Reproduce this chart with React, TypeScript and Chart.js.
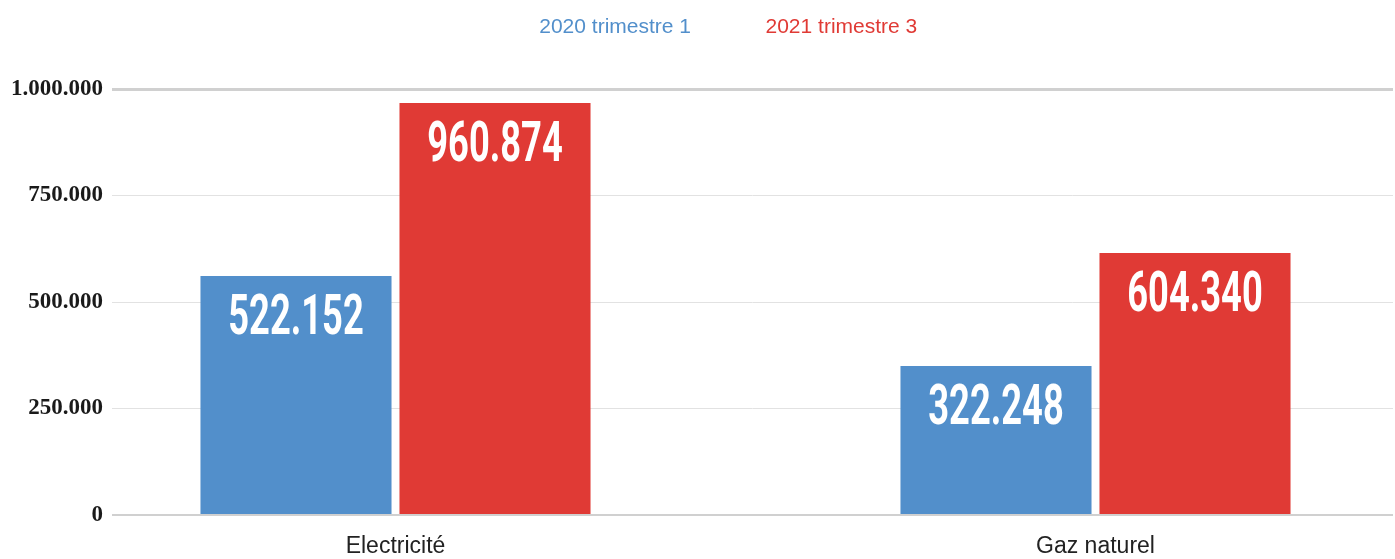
import React, { useEffect, useRef } from "react";
import { Chart, registerables } from "chart.js";

Chart.register(...registerables);

// Data
const categories = ["Electricité", "Gaz naturel"];
const seriesNames = ["2020 trimestre 1", "2021 trimestre 3"];
// bar heights as drawn in the picture
const bars2020 = [561000, 350000];
const bars2021 = [967000, 615000];
// value labels printed on the bars
const labels2020 = ["522.152", "322.248"];
const labels2021 = ["960.874", "604.340"];
const yTicks = [0, 250000, 500000, 750000, 1000000];

const BLUE = "#528fcb";
const RED = "#e03a35";

const fmt = (v: number) => String(Math.round(v)).replace(/\B(?=(\d{3})+(?!\d))/g, ".");

const barLabelPlugin = {
  id: "barLabels",
  afterDatasetsDraw(chart: any) {
    const ctx = chart.ctx;
    const texts = [labels2020, labels2021];
    chart.data.datasets.forEach((ds: any, di: number) => {
      const meta = chart.getDatasetMeta(di);
      meta.data.forEach((el: any, i: number) => {
        ctx.save();
        ctx.translate(el.x, el.y + 58);
        ctx.scale(0.66, 1);
        ctx.font = "bold 55px Roboto";
        ctx.fillStyle = "#ffffff";
        ctx.textAlign = "center";
        ctx.textBaseline = "alphabetic";
        ctx.fillText(texts[di][i], 0, 0);
        ctx.restore();
      });
    });
  },
};

const legendSpacer = {
  id: "legendSpacer",
  beforeInit(chart: any) {
    const legend = chart.legend;
    if (!legend) return;
    const origFit = legend.fit;
    legend.fit = function () {
      origFit.call(this);
      this.height += 41;
    };
  },
};

export default function App() {
  const ref = useRef<HTMLCanvasElement | null>(null);

  useEffect(() => {
    if (!ref.current) return;
    const chart = new Chart(ref.current, {
      type: "bar",
      data: {
        datasets: [
          {
            label: seriesNames[0],
            data: bars2020.map((v, i) => ({ x: i, y: v })),
            backgroundColor: BLUE,
            borderWidth: 0,
            categoryPercentage: 0.5686,
            barPercentage: 0.96,
          },
          {
            label: seriesNames[1],
            data: bars2021.map((v, i) => ({ x: i, y: v })),
            backgroundColor: RED,
            borderWidth: 0,
            categoryPercentage: 0.5686,
            barPercentage: 0.96,
          },
        ],
      },
      options: {
        responsive: false,
        animation: false,
        layout: { padding: { top: 6, right: 2, bottom: 0, left: 0 } },
        plugins: {
          tooltip: { enabled: false },
          legend: {
            display: true,
            position: "top",
            labels: {
              boxWidth: 53,
              boxHeight: 0,
              padding: 11,
              font: { family: "'Liberation Sans', Arial, sans-serif", size: 21 },
              generateLabels: (chart: any) =>
                chart.data.datasets.map((ds: any, i: number) => ({
                  text: ds.label,
                  fillStyle: "rgba(0,0,0,0)",
                  strokeStyle: "rgba(0,0,0,0)",
                  lineWidth: 0,
                  fontColor: ds.backgroundColor,
                  hidden: false,
                  datasetIndex: i,
                })),
            },
          },
        },
        scales: {
          x: {
            type: "linear",
            offset: false,
            min: -0.405,
            max: 1.425,
            grid: { display: false, drawTicks: false, offset: false },
            border: { display: false },
            afterBuildTicks: (scale: any) => {
              scale.ticks = categories.map((_, i) => ({ value: i }));
            },
            afterFit: (scale: any) => {
              scale.height = 44;
            },
            ticks: {
              padding: 18,
              color: "#222222",
              font: { family: "'Liberation Sans', Arial, sans-serif", size: 23 },
              callback: (v: any) => categories[Math.round(Number(v))] ?? "",
            },
          },
          y: {
            min: 0,
            max: 1000000,
            afterBuildTicks: (scale: any) => {
              scale.ticks = yTicks.map((v) => ({ value: v }));
            },
            afterFit: (scale: any) => {
              scale.width = 112;
            },
            border: { display: false },
            grid: {
              drawTicks: false,
              color: (c: any) =>
                c.tick && (c.tick.value === 0 || c.tick.value === 1000000) ? "#d0d0d0" : "#e2e2e2",
              lineWidth: (c: any) =>
                c.tick && c.tick.value === 1000000 ? 3 : c.tick && c.tick.value === 0 ? 2 : 1,
            },
            ticks: {
              padding: 9,
              color: "#1a1a1a",
              font: { family: "'Liberation Serif', 'Times New Roman', serif", size: 23, weight: "bold" },
              callback: (v: any) => fmt(Number(v)),
            },
          },
        },
      },
      plugins: [barLabelPlugin, legendSpacer],
    });
    return () => chart.destroy();
  }, []);

  return (
    <div style={{ position: "fixed", left: 0, top: 0, width: 1395, height: 559, background: "#fff" }}>
      <canvas ref={ref} width={1395} height={559} style={{ display: "block" }} />
    </div>
  );
}
